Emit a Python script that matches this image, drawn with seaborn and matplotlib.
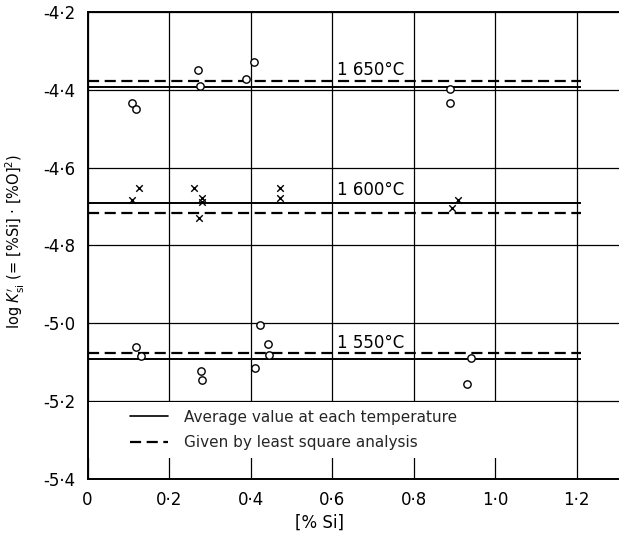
import matplotlib
matplotlib.use("Agg")
import matplotlib.pyplot as plt
import seaborn as sns
import pandas as pd
from matplotlib.lines import Line2D
from matplotlib.patches import Rectangle

# ---- data ----
temps = [1650, 1600, 1550]
temp_labels = ["1 650°C", "1 600°C", "1 550°C"]
avg_vals = [-4.393, -4.692, -5.092]      # average value at each temperature
lsq_vals = [-4.377, -4.717, -5.076]      # least square analysis
line_x_end = 1.21

si_1650 = [0.108, 0.118, 0.272, 0.276, 0.389, 0.409, 0.890, 0.890]
k_1650 = [-4.433, -4.450, -4.349, -4.390, -4.373, -4.329, -4.398, -4.435]

si_1600 = [0.108, 0.126, 0.262, 0.280, 0.280, 0.274, 0.472, 0.472, 0.910, 0.894]
k_1600 = [-4.683, -4.653, -4.652, -4.677, -4.689, -4.730, -4.653, -4.679, -4.683, -4.703]

si_1550 = [0.119, 0.130, 0.279, 0.282, 0.411, 0.423, 0.444, 0.445, 0.941, 0.930]
k_1550 = [-5.060, -5.084, -5.123, -5.146, -5.116, -5.005, -5.054, -5.083, -5.090, -5.156]

label_y = [-4.348, -4.658, -5.050]
label_x = 0.612

xticks = [0, 0.2, 0.4, 0.6, 0.8, 1.0, 1.2]
xticklabels = ["0", "0·2", "0·4", "0·6", "0·8", "1·0", "1·2"]
yticks = [-4.2, -4.4, -4.6, -4.8, -5.0, -5.2, -5.4]
yticklabels = ["-4·2", "-4·4", "-4·6", "-4·8", "-5·0", "-5·2", "-5·4"]

df_o = pd.concat([
    pd.DataFrame({"si": si_1650, "k": k_1650, "T": "1650"}),
    pd.DataFrame({"si": si_1550, "k": k_1550, "T": "1550"}),
], ignore_index=True)
df_x = pd.DataFrame({"si": si_1600, "k": k_1600, "T": "1600"})

sns.set_theme(style="white")
plt.rcParams["font.family"] = ["DejaVu Sans"]
plt.rcParams["mathtext.fontset"] = "dejavusans"

fig = plt.figure(figsize=(6.19, 5.36), dpi=100)
ax = fig.add_axes([0.1414, 0.1067, 0.8586, 0.8709])
ax.set_xlim(0, 1.304)
ax.set_ylim(-5.4, -4.2)

ax.set_axisbelow(True)
ax.grid(True, color="black", lw=0.9)
ax.set_xticks(xticks)
ax.set_xticklabels(xticklabels)
ax.set_yticks(yticks)
ax.set_yticklabels(yticklabels)
ax.tick_params(length=0, labelsize=12, colors="black", pad=9)
for s in ["left", "top", "bottom"]:
    ax.spines[s].set_color("black")
    ax.spines[s].set_linewidth(1.4)
ax.spines["right"].set_visible(False)

# horizontal lines
for a, l in zip(avg_vals, lsq_vals):
    ax.hlines(a, 0, line_x_end, colors="black", lw=1.4, zorder=3)
    ax.hlines(l, 0, line_x_end, colors="black", lw=1.6, linestyles=(0, (5, 2.5)), zorder=3)

sns.scatterplot(data=df_o, x="si", y="k", marker="o", s=28, facecolor="white",
                edgecolor="black", linewidth=1.0, ax=ax, legend=False, zorder=4)
sns.scatterplot(data=df_x, x="si", y="k", marker="x", s=22, color="black",
                linewidth=1.0, ax=ax, legend=False, zorder=4)

for t, y in zip(temp_labels, label_y):
    ax.text(label_x, y, t, fontsize=12, va="center", ha="left", color="black", zorder=5)

# legend area (white mask over grid)
ax.add_patch(Rectangle((0.0, 0.045), 0.915, 0.12, transform=ax.transAxes,
                       facecolor="white", edgecolor="none", zorder=1))
handles = [Line2D([], [], color="black", lw=1.2),
           Line2D([], [], color="black", lw=1.6, linestyle=(0, (5, 2.5)))]
leg = ax.legend(handles, ["Average value at each temperature",
                          "Given by least square analysis"],
                loc="upper left", bbox_to_anchor=(0.08, 0.148), frameon=False,
                fontsize=11, handlelength=2.5, handletextpad=1.0,
                labelspacing=0.7, borderpad=0, borderaxespad=0)
leg.set_zorder(6)

ax.set_xlabel("[% Si]", fontsize=12, color="black")
ax.xaxis.set_label_coords(0.437, -0.075)
ax.set_ylabel(r"log $K^{\prime}_{\mathrm{si}}$ (= [%Si] · [%O]$^{2}$)", fontsize=10.5, color="black")
ax.yaxis.set_label_coords(-0.114, 0.508)

fig.savefig("out.png", dpi=100, facecolor="white")
